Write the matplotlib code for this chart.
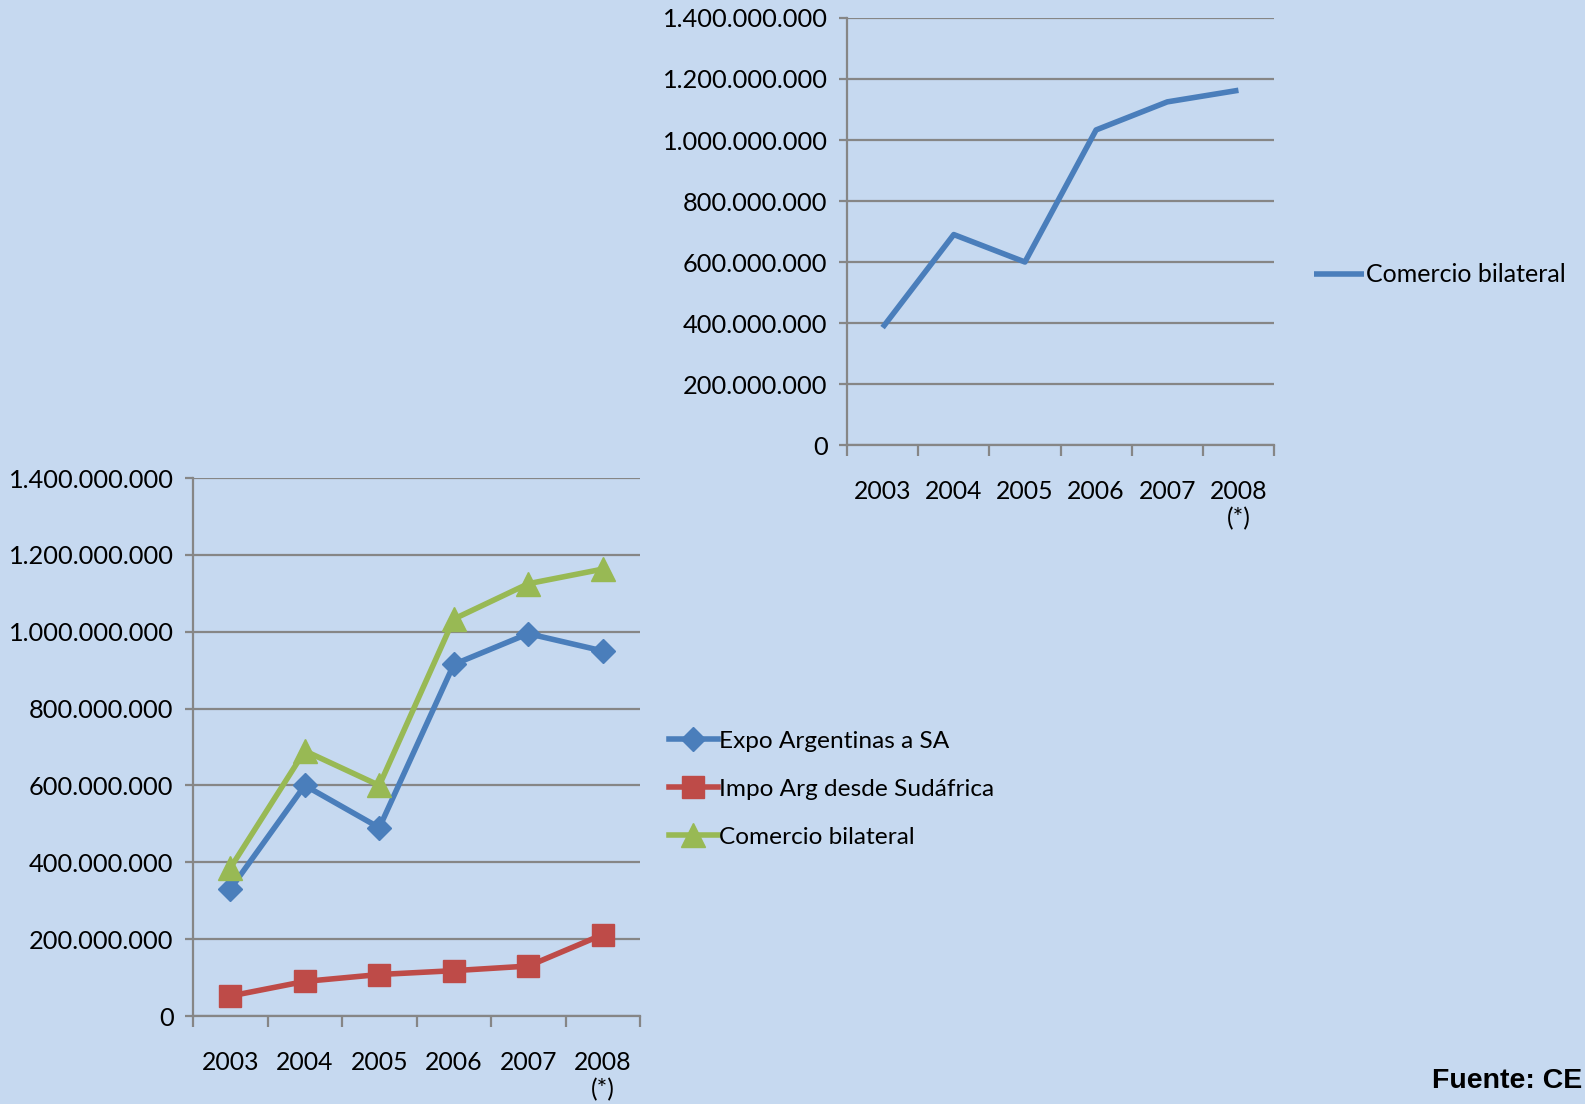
import matplotlib
matplotlib.use("Agg")
import matplotlib.pyplot as plt
from matplotlib.ticker import FuncFormatter, MultipleLocator, FixedLocator

# Data
years = ["2003", "2004", "2005", "2006", "2007", "2008\n(*)"]
expo = [330e6, 600e6, 490e6, 915e6, 995e6, 950e6]
impo = [52e6, 90e6, 108e6, 118e6, 130e6, 212e6]
comercio = [385e6, 690e6, 600e6, 1033e6, 1125e6, 1163e6]

BG = "#C6D9F0"
GRID = "#868686"
BLUE = "#4A7EBB"
RED = "#BE4B48"
GREEN = "#98B954"
FONT = "Lato"

fig = plt.figure(figsize=(15.85, 11.04), dpi=100)
fig.patch.set_facecolor(BG)

fmt = FuncFormatter(lambda v, p: f"{int(round(v)):,}".replace(",", "."))


def style(ax):
    ax.set_facecolor(BG)
    ax.set_xlim(0, 6)
    ax.set_ylim(0, 1.4e9)
    ax.yaxis.set_major_locator(MultipleLocator(2e8))
    ax.yaxis.set_major_formatter(fmt)
    ax.xaxis.set_major_locator(FixedLocator(range(7)))
    ax.xaxis.set_major_formatter(FuncFormatter(lambda v, p: ""))
    ax.xaxis.set_minor_locator(FixedLocator([i + 0.5 for i in range(6)]))
    ax.set_xticklabels(years, minor=True)
    ax.tick_params(axis="x", which="minor", length=0, pad=25)
    ax.tick_params(axis="x", which="major", length=8, width=1.6, color=GRID, direction="out")
    ax.tick_params(axis="y", length=6, width=1.6, color=GRID, direction="out", pad=8)
    for lab in ax.get_yticklabels():
        lab.set_fontfamily(FONT)
        lab.set_fontsize(18.3)
    for lab in ax.get_xticklabels(minor=True):
        lab.set_fontfamily(FONT)
        lab.set_fontsize(17.8)
    for s in ["top", "right"]:
        ax.spines[s].set_visible(False)
    for s in ["left", "bottom"]:
        ax.spines[s].set_color(GRID)
        ax.spines[s].set_linewidth(1.6)
    ax.grid(axis="y", color=GRID, linewidth=1.6)
    ax.set_axisbelow(True)


xs = [i + 0.5 for i in range(6)]

# Top chart
ax1 = fig.add_axes([0.5344, 0.5969, 0.2694, 0.3868])
style(ax1)
l1, = ax1.plot(xs, comercio, color=BLUE, linewidth=4, solid_capstyle="butt")
ax1.legend([l1], ["Comercio bilateral"], loc="center left",
           bbox_to_anchor=(0.815, 0.751), bbox_transform=fig.transFigure,
           frameon=False, handlelength=2.0, handletextpad=0.05,
           prop={"family": FONT, "size": 18})

# Bottom chart
ax2 = fig.add_axes([0.1218, 0.0797, 0.282, 0.4873])
style(ax2)
h1, = ax2.plot(xs, expo, color=BLUE, linewidth=4, marker="D", markersize=12)
h2, = ax2.plot(xs, impo, color=RED, linewidth=4, marker="s", markersize=16)
h3, = ax2.plot(xs, comercio, color=GREEN, linewidth=4, marker="^", markersize=17)
ax2.legend([h1, h2, h3],
           ["Expo Argentinas a SA", "Impo Arg desde Sudáfrica", "Comercio bilateral"],
           loc="upper left", bbox_to_anchor=(0.408, 0.358), bbox_transform=fig.transFigure,
           frameon=False, handlelength=2.0, handletextpad=0.05, labelspacing=1.1,
           prop={"family": FONT, "size": 17.6})

fig.text(0.9985, 0.021, "Fuente: CE", fontfamily="Liberation Sans", fontweight="bold",
         fontsize=20.5, color="black", va="center", ha="right")

fig.savefig("out.png", dpi=100, facecolor=BG)
